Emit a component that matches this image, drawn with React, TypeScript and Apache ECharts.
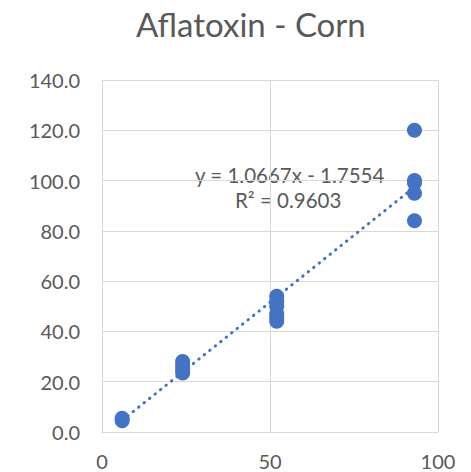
import React, { useEffect, useRef } from "react";
import * as echarts from "echarts";

const xValues = [6, 6, 24, 24, 24, 24, 52, 52, 52, 52, 52, 52, 93, 93, 93, 93, 93];
const yValues = [4.5, 5.5, 23.5, 25, 26.5, 28, 44, 45.5, 47, 50, 52, 54, 84, 95, 99, 100, 120];
const slope = 1.0667;
const intercept = -1.7554;
const rSquared = 0.9603;
const trendRange = [6, 93];

const FONT = "Lato, 'Open Sans', sans-serif";
const TEXT = "#595959";

export default function App() {
  const ref = useRef<HTMLDivElement>(null);
  useEffect(() => {
    if (!ref.current) return;
    const chart = echarts.init(ref.current, undefined, { renderer: "svg" });
    const points = xValues.map((x, i) => [x, yValues[i]]);
    const trend = trendRange.map((x) => [x, slope * x + intercept]);
    chart.setOption({
      animation: false,
      title: {
        text: "Aflatoxin - Corn",
        left: 131,
        top: 2,
        textStyle: { fontFamily: FONT, fontSize: 33, fontWeight: "normal", color: TEXT },
      },
      grid: { left: 102, right: 33, top: 80, bottom: 40 },
      xAxis: {
        type: "value",
        min: 0,
        max: 100,
        interval: 50,
        axisLine: { show: true, lineStyle: { color: "#d9d9d9", width: 1 } },
        axisTick: { show: false },
        splitLine: { show: true, lineStyle: { color: "#d9d9d9", width: 1 } },
        axisLabel: { fontFamily: FONT, fontSize: 20, lineHeight: 20, color: TEXT, margin: 19 },
      },
      yAxis: {
        type: "value",
        min: 0,
        max: 140,
        interval: 20,
        axisLine: { show: false },
        axisTick: { show: false },
        splitLine: { show: true, lineStyle: { color: "#d9d9d9", width: 1 } },
        axisLabel: {
          fontFamily: FONT,
          fontSize: 20,
          color: TEXT,
          margin: 22,
          formatter: (v: number) => v.toFixed(1),
        },
      },
      series: [
        {
          type: "line",
          data: trend,
          symbol: "none",
          lineStyle: { color: "#4472C4", width: 3, type: [0.5, 6.5], cap: "round" },
          z: 3,
        },
        {
          type: "scatter",
          data: points,
          symbol: "circle",
          symbolSize: 15,
          itemStyle: { color: "#4472C4", opacity: 1 },
          z: 4,
        },
      ],
      graphic: [
        {
          type: "text",
          left: 195,
          top: 164,
          style: {
            text: `y = ${slope.toFixed(4)}x - ${Math.abs(intercept).toFixed(4)}`,
            fontFamily: FONT,
            fontSize: 20.5,
            fill: TEXT,
          },
        },
        {
          type: "text",
          left: 235,
          top: 189,
          style: {
            text: `R² = ${rSquared.toFixed(4)}`,
            fontFamily: FONT,
            fontSize: 20.5,
            fill: TEXT,
          },
        },
      ],
    });
    return () => chart.dispose();
  }, []);
  return (
    <div
      ref={ref}
      style={{ position: "absolute", left: 0, top: 0, width: 471, height: 472, background: "#fff" }}
    />
  );
}
